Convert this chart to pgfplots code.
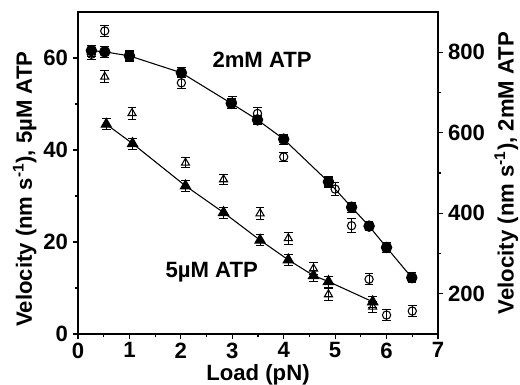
\documentclass[border=0pt]{standalone}
\usepackage{fontspec}
\setmainfont{Liberation Sans}
\usepackage{pgfplots}
\pgfplotsset{compat=1.18}
\begin{document}
\begin{tikzpicture}[font=\fontsize{16.6}{18}\selectfont\bfseries]
\pgfplotsset{
  common/.style={
    scale only axis, width=270pt, height=241.5pt,
    xmin=0, xmax=7,
    tick align=outside,
    major tick length=4pt, minor tick length=2.5pt,
    axis line style={line width=1.1pt},
    every tick/.style={line width=0.8pt, black},
    /pgf/number format/assume math mode=true,
    tick label style={font=\fontsize{16.6}{18}\selectfont\bfseries},
    label style={font=\fontsize{16.6}{18}\selectfont\bfseries},
  },
  ebar/.style={error bars/.cd, y dir=both, y explicit,
    error bar style={line width=0.7pt, black},
    error mark options={line width=0.7pt, mark size=3.2pt, rotate=90}},
}
\begin{axis}[common,
  ymin=0, ymax=70,
  xtick={0,...,7}, ytick={0,20,40,60},
  minor x tick num=1, minor y tick num=1,
  xtick pos=bottom, ytick pos=left,
  xtick style={yshift=0pt},
  xticklabel style={yshift=1pt},
  xlabel={Load (pN)},
  ylabel={Velocity (nm s\textsuperscript{-1}), 5µM ATP},
  xlabel style={at={(rel axis cs:0.5,-0.08)}, anchor=north},
  ylabel style={at={(rel axis cs:-0.148,0.45)}, anchor=center},
]
\coordinate (bl) at (rel axis cs:-0.2167,-0.1584);
\coordinate (tr) at (rel axis cs:1.2278,1.0373);
% filled triangles 5uM
\addplot[black, line width=0.8pt, mark=triangle*, mark size=4.4pt, mark options={solid, fill=black}, ebar]
coordinates {
(0.55,45.6) +- (0,1.2)
(1.06,41.4) +- (0,1.2)
(2.09,32.2) +- (0,1.2)
(2.83,26.4) +- (0,1.2)
(3.54,20.4) +- (0,1.2)
(4.09,16.1) +- (0,1.2)
(4.58,12.7) +- (0,1.2)
(4.87,11.4) +- (0,1.2)
(5.73,7.0) +- (0,1.2)
};
% open triangles
\addplot[only marks, black, mark=triangle, mark size=3.5pt, mark options={line width=0.8pt, fill=white}, ebar]
coordinates {
(0.52,55.9) +- (0,1.3)
(1.05,48.0) +- (0,1.3)
(2.09,37.2) +- (0,1.1)
(2.83,33.6) +- (0,1.0)
(3.54,26.2) +- (0,1.3)
(4.09,20.8) +- (0,1.3)
(4.58,14.2) +- (0,1.3)
(4.87,8.6) +- (0,1.3)
(5.73,5.9) +- (0,1.2)
};
\node at (axis cs:3.58,59.7) {2mM ATP};
\node at (axis cs:2.6,13.5) {5µM ATP};
\end{axis}
\begin{axis}[common,
  ymin=100, ymax=900,
  axis x line=none, axis y line*=right,
  ytick={200,400,600,800}, minor y tick num=1,
  ylabel={Velocity (nm s\textsuperscript{-1}), 2mM ATP},
  ylabel style={at={(rel axis cs:1.19,0.5)}, anchor=center},
]
% filled circles 2mM
\addplot[black, line width=0.8pt, mark=*, mark size=3.9pt, mark options={solid, fill=black}, ebar]
coordinates {
(0.26,804) +- (0,14)
(0.52,801) +- (0,14)
(1.0,791) +- (0,12)
(2.01,749) +- (0,12)
(2.98,673) +- (0,12)
(3.49,632) +- (0,12)
(4.0,584) +- (0,12)
(4.87,478) +- (0,12)
(5.32,415) +- (0,12)
(5.66,368) +- (0,12)
(6.0,315) +- (0,12)
(6.49,240) +- (0,12)
};
% open circles
\addplot[only marks, black, mark=o, mark size=3.1pt, mark options={line width=0.8pt, fill=white}, ebar]
coordinates {
(0.26,795) +- (0,14)
(0.52,853) +- (0,14)
(1.0,791) +- (0,14)
(2.01,724) +- (0,14)
(3.0,675) +- (0,14)
(3.49,648) +- (0,16)
(4.0,540) +- (0,12)
(4.87,478) +- (0,14)
(5.0,460) +- (0,16)
(5.32,369) +- (0,17)
(5.66,236) +- (0,14)
(6.0,147) +- (0,14)
(6.5,157) +- (0,14)
};
\end{axis}
\pgfresetboundingbox
\path[use as bounding box] (bl) rectangle (tr);
\end{tikzpicture}
\end{document}
